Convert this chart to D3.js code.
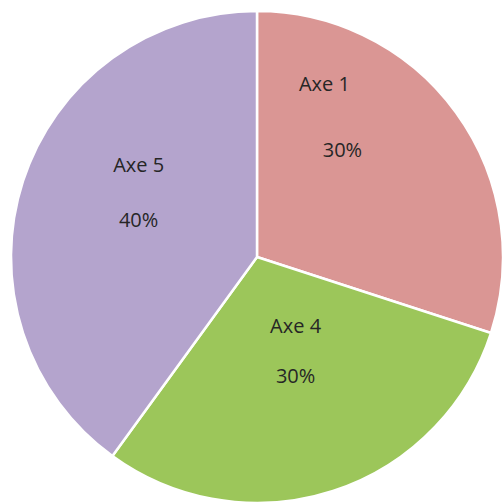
<!DOCTYPE html>
<html>
<head>
<meta charset="utf-8">
<script src="https://cdn.jsdelivr.net/npm/d3@7"></script>
<style>
  html, body { margin: 0; padding: 0; background: #fff; }
  svg { display: block; }
</style>
</head>
<body>
<div id="chart"></div>
<script>
// chart data
const categories = ['Axe 1', 'Axe 4', 'Axe 5'];
const values = [30, 30, 40];
const colors = ['#DA9694', '#9CC65A', '#B4A4CD'];

// manual label placement, as in the source (offsets from the slice centroid)
const labelOffsets = [
    { name: [-52, -87], pct: [-34, -21] },
    { name: [-7, -72], pct: [-7, -22] },
    { name: [22, -47], pct: [22, 8] }
];

const width = 502, height = 503;
const cx = 257, cy = 257, radius = 246;

const svg = d3.select('#chart')
    .append('svg')
    .attr('width', width)
    .attr('height', height);

const g = svg.append('g')
    .attr('transform', `translate(${cx},${cy})`);

const pie = d3.pie()
    .value(d => d)
    .sort(null);

const arc = d3.arc()
    .innerRadius(0)
    .outerRadius(radius);

const labelArc = d3.arc()
    .innerRadius(radius * 0.6)
    .outerRadius(radius * 0.6);

const arcs = pie(values);

// slices
g.selectAll('path')
    .data(arcs)
    .enter()
    .append('path')
    .attr('d', arc)
    .attr('fill', (d, i) => colors[i])
    .attr('stroke', '#fff')
    .attr('stroke-width', 2.5)
    .attr('stroke-linejoin', 'round');

// labels
const total = d3.sum(values);
const labels = g.selectAll('g.label')
    .data(arcs)
    .enter()
    .append('g')
    .attr('class', 'label');

labels.append('text')
    .attr('x', (d, i) => labelArc.centroid(d)[0] + labelOffsets[i].name[0])
    .attr('y', (d, i) => labelArc.centroid(d)[1] + labelOffsets[i].name[1])
    .text((d, i) => categories[i]);

labels.append('text')
    .attr('x', (d, i) => labelArc.centroid(d)[0] + labelOffsets[i].pct[0])
    .attr('y', (d, i) => labelArc.centroid(d)[1] + labelOffsets[i].pct[1])
    .text(d => Math.round(d.value / total * 100) + '%');

labels.selectAll('text')
    .attr('text-anchor', 'middle')
    .attr('dominant-baseline', 'central')
    .style('font-family', '"Open Sans", "Liberation Sans", sans-serif')
    .style('font-size', '20px')
    .style('fill', '#262626');
</script>
</body>
</html>
